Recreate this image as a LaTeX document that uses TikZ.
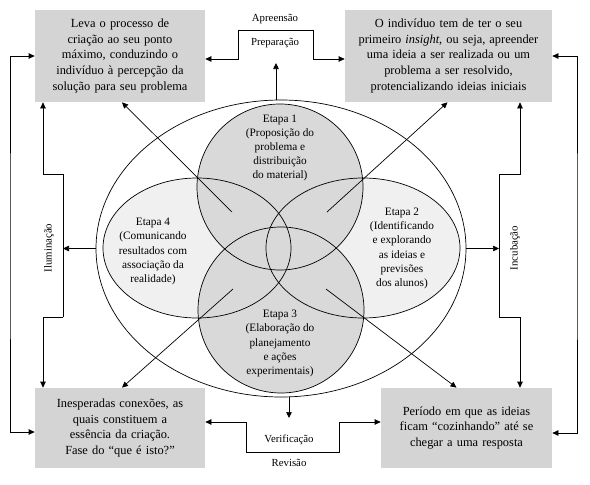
\documentclass[tikz,border=0pt]{standalone}
\usepackage{fontspec}
\setmainfont{Liberation Serif}
\usetikzlibrary{arrows.meta,shapes.geometric}
\definecolor{boxgray}{HTML}{D4D4D4}
\definecolor{circgray}{HTML}{D9D9D9}
\definecolor{ellgray}{HTML}{F0F0F0}
\begin{document}
\begin{tikzpicture}[x=1pt,y=-1pt,line width=0.7pt,
  box/.style={rectangle, fill=boxgray, align=center, inner sep=0pt,
    font=\fontsize{12.4}{15.8}\selectfont},
  etapa/.style={align=center, inner sep=0pt, font=\fontsize{11.3}{14.2}\selectfont},
  lab/.style={inner sep=0pt, font=\fontsize{10.8}{12}\selectfont},
  tip/.tip={Triangle[length=6pt,width=5.5pt]},
  arr/.style={-tip},
  dbl/.style={tip-tip}]
\useasboundingbox (0,0) rectangle (590,485);

% boxes
\node[box, minimum width=170pt, minimum height=92pt, text width=168pt] (tl) at (120,56)
  {Leva o processo de\\criação ao seu ponto\\máximo, conduzindo o\\indivíduo à percepção da\\solução para seu problema};
\node[box, minimum width=207pt, minimum height=92pt, text width=205pt] (tr) at (448.5,56)
  {O indivíduo tem de ter o seu\\primeiro \textit{insight}, ou seja, apreender\\uma ideia a ser realizada ou um\\problema a ser resolvido,\\protencializando ideias iniciais};
\node[box, minimum width=170pt, minimum height=80pt, text width=168pt] (bl) at (120,428)
  {Inesperadas conexões, as\\quais constituem a\\essência da criação.\\Fase do “que é isto?”};
\node[box, minimum width=171pt, minimum height=80pt, text width=169pt] (br) at (466.5,428)
  {Período em que as ideias\\ficam “cozinhando” até se\\chegar a uma resposta};

% big ellipse
\node[draw, ellipse, minimum width=370pt, minimum height=297pt, inner sep=0pt] (big) at (281,248.5) {};

% stage shapes (fills)
\node[ellipse, fill=ellgray, minimum width=188pt, minimum height=140pt, inner sep=0pt] (e4) at (197,248) {};
\node[ellipse, fill=ellgray, minimum width=194pt, minimum height=140pt, inner sep=0pt] (e2) at (363,248) {};
\node[circle, fill=circgray, minimum size=166pt, inner sep=0pt] (e1) at (280,187) {};
\node[circle, fill=circgray, minimum size=166pt, inner sep=0pt] (e3) at (281,310) {};
% outlines
\draw (e4.center) ellipse [x radius=94, y radius=70];
\draw (e2.center) ellipse [x radius=97, y radius=70];
\draw (e1.center) circle [radius=83];
\draw (e3.center) circle [radius=83];

% stage texts
\node[etapa] (t1) at (280,148) {Etapa 1\\(Proposição do\\problema e\\distribuição\\do material)};
\node[etapa] (t2) at (402,248.5) {Etapa 2\\(Identificando\\e explorando\\as ideias e\\previsões\\dos alunos)};
\node[etapa] (t3) at (280,343.5) {Etapa 3\\(Elaboração do\\planejamento\\e ações\\experimentais)};
\node[etapa] (t4) at (153,251.5) {Etapa 4\\(Comunicando\\resultados com\\associação da\\realidade)};

% diagonal arrows
\coordinate (s1) at (232,212);
\coordinate (s2) at (327,212);
\coordinate (s3) at (233,289);
\coordinate (s4) at (326,289);
\draw[arr] (s1) -- ([xshift=2pt]tl.south);
\draw[arr] (s2) -- ([xshift=-1pt]tr.south);
\draw[arr] (s3) -- ([xshift=2pt]bl.north);
\draw[arr] (s4) -- ([xshift=-10pt]br.north);

% top connector
\coordinate (ta) at (238,30);
\coordinate (tb) at (313,30);
\draw[dbl] ([yshift=-3pt]tl.east) -| (ta) -- (tb) |- ([yshift=-3pt]tr.west);
\node[lab] (apr) at (275,19) {Apreensão};
\node[lab] (prep) at (275,43) {Preparação};
\coordinate (pa) at (276,63);
\draw[arr] (big.north -| pa) -- (pa);

% bottom connector
\coordinate (ba) at (246,452);
\coordinate (bb) at (339,452);
\draw[dbl] ([yshift=6pt]bl.east) -| (ba) -- (bb) |- ([yshift=6pt]br.west);
\node[lab] (ver) at (289,440) {Verificação};
\node[lab] (rev) at (289,463) {Revisão};
\coordinate (va) at (289,418);
\draw[arr] (big.south -| va) -- (va);

% outer side lines
\coordinate (lo) at (10,248);
\coordinate (ro) at (577,248);
\draw[dbl] (tl.west) -| (lo) |- ([yshift=-4pt]bl.west);
\draw[dbl] (tr.east) -| (ro) |- ([yshift=-5pt]br.east);

% left inner bracket
\coordinate (li1) at (63,174);
\coordinate (li2) at (63,317);
\coordinate (lk1) at (43,174);
\coordinate (lk2) at (43,317);
\draw (li1) -- (li2);
\draw[arr] (li1) -- (lk1) -- (lk1 |- tl.south);
\draw[arr] (li2) -- (lk2) -- (lk2 |- bl.north);
\draw[arr] (big.west) -- (big.west -| li1);
\node[lab, rotate=90] (ilu) at (49,248) {Iluminação};

% right inner bracket
\coordinate (ri1) at (499,174);
\coordinate (ri2) at (499,317);
\coordinate (rk1) at (520,174);
\coordinate (rk2) at (520,317);
\draw (ri1) -- (ri2);
\draw[arr] (ri1) -- (rk1) -- (rk1 |- tr.south);
\draw[arr] (ri2) -- (rk2) -- (rk2 |- br.north);
\draw[arr] (big.east) -- (big.east -| ri1);
\node[lab, rotate=90] (inc) at (515,248) {Incubação};
\end{tikzpicture}
\end{document}
